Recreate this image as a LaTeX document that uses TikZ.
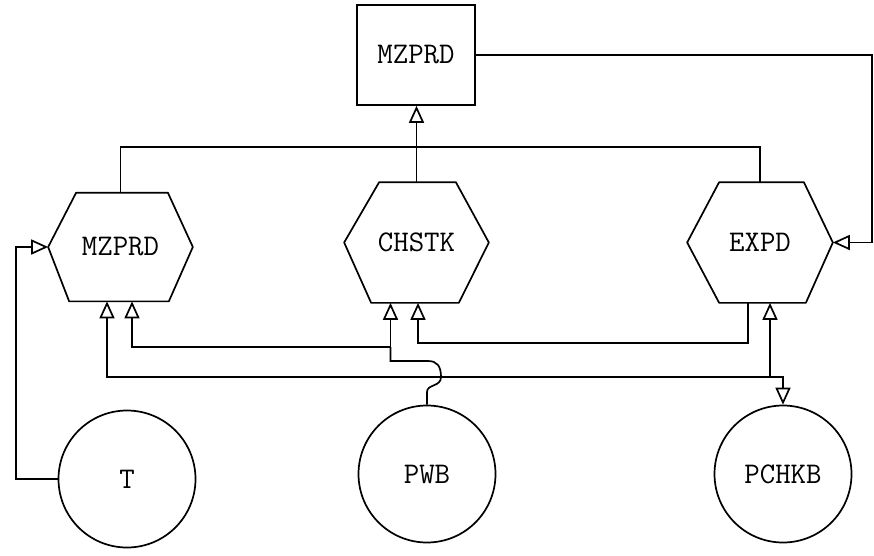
\documentclass[tikz,border=0pt]{standalone}
\usepackage{fontspec}
\usetikzlibrary{arrows.meta,calc}
\begin{document}
\begin{tikzpicture}[x=1pt,y=-1pt,line width=1.7pt,
  lbl/.style={font=\ttfamily\fontsize{30}{32}\selectfont},
  boxnode/.style={lbl,rectangle,draw,minimum width=118pt,minimum height=100pt,inner sep=0pt},
  hexnode/.style={lbl,draw=none,inner sep=0pt},
  circnode/.style={lbl,circle,draw,minimum size=137pt,inner sep=0pt},
  arr/.style={-{Triangle[open,length=17pt,width=15pt,line width=1.7pt]}}]
\useasboundingbox (0,0) rectangle (874,555);

% nodes
\node[boxnode] (top) at (416,55) {MZPRD};
\node[hexnode,minimum width=143pt,minimum height=107pt] (mz) at (120.5,247) {MZPRD};
\node[hexnode,minimum width=143pt,minimum height=119pt] (ch) at (416.5,242.5) {CHSTK};
\node[hexnode,minimum width=144pt,minimum height=119pt] (ex) at (760,242.5) {EXPD};
\node[circnode] (T) at (127,479) {T};
\node[circnode] (PWB) at (427,474) {PWB};
\node[circnode] (PCHKB) at (783,474) {PCHKB};

% hexagon outlines
\draw[line join=round] (mz.west) -- ([xshift=28pt]mz.north west) -- ([xshift=-25pt]mz.north east)
  -- (mz.east) -- ([xshift=-24pt]mz.south east) -- ([xshift=21pt]mz.south west) -- cycle;
\draw[line join=round] (ch.west) -- ([xshift=35pt]ch.north west) -- ([xshift=-33pt]ch.north east)
  -- (ch.east) -- ([xshift=-30pt]ch.south east) -- ([xshift=27pt]ch.south west) -- cycle;
\draw[line join=round] (ex.west) -- ([xshift=32pt]ex.north west) -- ([xshift=-29pt]ex.north east)
  -- (ex.east) -- ([xshift=-27pt]ex.south east) -- ([xshift=32pt]ex.south west) -- cycle;

% junction coordinates
\coordinate (bus0) at (440,147);
\coordinate (j1) at (390.5,347);
\coordinate (k1) at (390.5,361);
\coordinate (j3) at (770,377);
\coordinate (c2) at (16,400);

% connectors
\draw[arr] (top.east) -| ($(ex.east)+(39,0)$) -- (ex.east);
\draw[arr] (ch.north) -- (ch.north |- top.south);
\draw (mz.north) |- (bus0) -| (ex.north);
\draw[arr] (T.west) -| (c2) |- (mz.west);

\draw[arr] (j1) -| ([xshift=11.5pt]mz.south);
\draw[arr] (j1) -- ([xshift=-26pt]ch.south);
\draw (PWB.north) -- (427,392) .. controls (427,384) and (441,387) .. (441,377)
  .. controls (441,366) and (437,361) .. (428,361) -- (k1) -- (j1);

\draw[arr] ([xshift=-12pt]ex.south) -- ++(0,40) -| ([xshift=1.5pt]ch.south);

\draw[arr] (j3) -| ([xshift=-13.5pt]mz.south);
\draw[arr] (j3) -| (PCHKB.north);
\draw[arr] (j3) -- ([xshift=10pt]ex.south);
\end{tikzpicture}
\end{document}
